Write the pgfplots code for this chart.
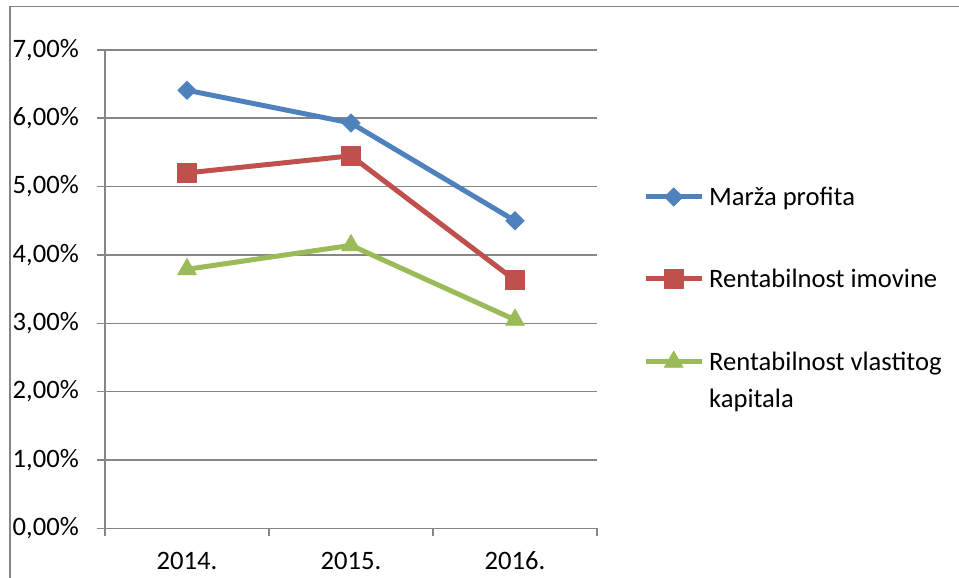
\documentclass[border=0pt]{standalone}
\usepackage{fontspec}
\setmainfont{Carlito}
\usepackage{pgfplots}
\pgfplotsset{compat=1.18}
\definecolor{cblue}{HTML}{4F81BD}
\definecolor{cred}{HTML}{C0504D}
\definecolor{cgreen}{HTML}{9BBB59}
\definecolor{gline}{HTML}{868686}
\begin{document}
\fontsize{26.6}{32}\selectfont
\begin{tikzpicture}
\draw[gline, line width=1.5pt] (10pt,0pt) -- (10pt,571.3pt) -- (959pt,571.3pt);
\begin{axis}[
  at={(105pt,49.7pt)}, anchor=south west,
  scale only axis, width=492pt, height=478.4pt,
  xmin=-0.5, xmax=2.5, ymin=0, ymax=7,
  xtick={0,1,2}, xticklabels={2014.,2015.,2016.},
  minor xtick={-0.5,0.5,1.5,2.5},
  ytick={0,1,2,3,4,5,6,7},
  yticklabels={{0,00\%},{1,00\%},{2,00\%},{3,00\%},{4,00\%},{5,00\%},{6,00\%},{7,00\%}},
  axis x line*=bottom, axis y line*=left,
  axis line style={gline, line width=1.5pt},
  ymajorgrids, grid style={gline, line width=1.5pt},
  tick align=outside, major tick length=8pt, minor tick length=8pt,
  tick style={gline, line width=1.5pt},
  every major x tick/.append style={draw=none},
  font=\fontsize{26.6}{32}\selectfont,
  yticklabel style={anchor=east, inner sep=0pt, xshift=-18pt},
  xticklabel style={anchor=base, inner sep=0pt, yshift=-33.7pt},
  legend style={at={(1,1)}, anchor=north west, xshift=46pt, yshift=-137pt,
    draw=none, fill=none, inner sep=0pt, row sep=59.5pt, column sep=5pt,
    cells={anchor=base west}, nodes={inner sep=0pt},
    font=\fontsize{26.6}{32}\selectfont},
  legend image code/.code={\draw[mark repeat=2, mark phase=2] plot coordinates {(0pt,8.5pt) (28pt,8.5pt) (56pt,8.5pt)};},
  clip=false,
]
\addplot[cblue, line width=5pt, line join=round, mark=square*, mark size=6.6pt,
  mark options={solid, rotate=45, fill=cblue, line width=0.5pt}]
  coordinates {(0,6.41) (1,5.93) (2,4.50)};
\addlegendentry{Marža profita}
\addplot[cred, line width=5pt, line join=round, mark=square*, mark size=9.5pt,
  mark options={solid, fill=cred, line width=0.5pt}]
  coordinates {(0,5.20) (1,5.45) (2,3.63)};
\addlegendentry{Rentabilnost imovine}
\addplot[cgreen, line width=5pt, line join=round, mark=triangle*, mark size=11pt,
  mark options={solid, fill=cgreen, line width=0.5pt}]
  coordinates {(0,3.79) (1,4.14) (2,3.05)};
\addlegendentry{\vtop{\baselineskip=37pt\hbox{Rentabilnost vlastitog}\hbox{kapitala}}}
\end{axis}
\pgfresetboundingbox
\useasboundingbox (0pt,0pt) rectangle (959pt,578pt);
\end{tikzpicture}
\end{document}
